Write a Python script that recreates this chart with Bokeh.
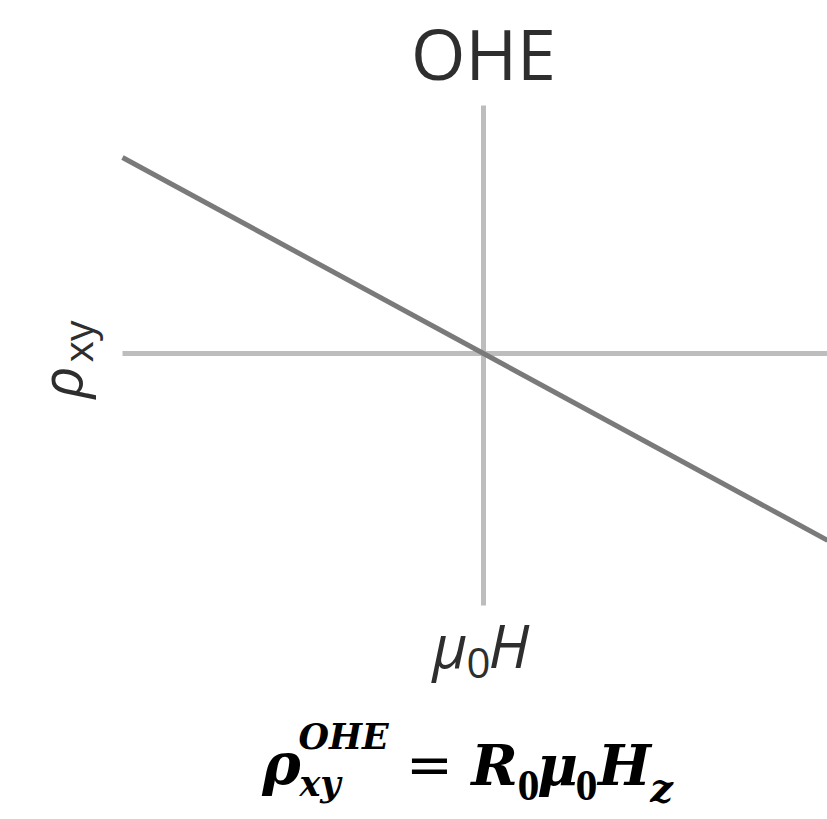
import math
from bokeh.plotting import figure
from bokeh.models import Range1d
from bokeh.core.properties import value
from bokeh.embed import file_html
from bokeh.resources import INLINE

# Ordinary Hall effect: rho_xy = R0 * mu0 * H (schematic, arbitrary units)
field = [-1.0, 0.953]
R0 = -0.543
rho_xy = [R0 * h for h in field]

# reference axes drawn through the origin
h_axis_x = [-1.0, 0.953]
h_axis_y = [0.0, 0.0]
v_axis_x = [0.0, 0.0]
v_axis_y = [-0.698, 0.687]

title_text = "OHE"

W, H = 827, 819
SCALE = 361.0          # pixels per unit
OX, OY = 483.0, 353.0  # pixel position of the origin
K = 0.46               # baseline correction of the svg text, in em

p = figure(width=W, height=H, output_backend="svg", toolbar_location=None,
           x_range=Range1d(-OX / SCALE, (W - OX) / SCALE),
           y_range=Range1d(-(H - OY) / SCALE, OY / SCALE),
           min_border=0, outline_line_color=None)
p.axis.visible = False
p.grid.visible = False
p.background_fill_color = "white"
p.border_fill_color = "white"


def at(xp, yp):
    """pixel position (from top-left) -> data coordinates"""
    return (xp - OX) / SCALE, (OY - yp) / SCALE


p.line(h_axis_x, h_axis_y, line_color="#bdbdbd", line_width=5)
p.line(v_axis_x, v_axis_y, line_color="#bdbdbd", line_width=5)
p.line(field, rho_xy, line_color="#7a7a7a", line_width=5)


def txt(s, xp, yp, size, font="Open Sans", style="normal", color="#2e2e2e",
        align="left", rotated=False):
    # (xp, yp) is the wanted baseline point
    if rotated:
        x, y = at(xp - K * size, yp)
        angle = math.pi / 2
    else:
        x, y = at(xp, yp - K * size)
        angle = 0.0
    p.text(x=[x], y=[y], text=[s], text_font=value(font),
           text_font_size=f"{size}px", text_font_style=style,
           text_color=color, text_align=align, text_baseline="alphabetic",
           angle=angle)


# title
txt(title_text, 483, 85, 70, align="center")

# x label: mu0H
txt("μ", 432, 672, 60, style="italic")
txt("0", 466, 682, 42)
txt("H", 488, 672, 60, style="italic")

# y label: rho_xy (rotated)
txt("ρ", 85, 398, 56, style="italic", rotated=True)
txt("xy", 95, 362, 41, rotated=True)

# formula: rho_xy^OHE = R0 mu0 Hz
F = "DejaVu Serif"
FD = "Liberation Serif"
BI = "bold italic"
fc = "#000000"
txt("ρ", 281, 790, 58, font=F, style=BI, color=fc, align="center")
txt("OHE", 298, 752, 35, font=F, style=BI, color=fc)
txt("xy", 299, 799, 35, font=F, style=BI, color=fc)
txt("=", 429, 790, 56, font=F, style="normal", color=fc, align="center")
txt("R", 494, 790, 56, font=F, style=BI, color=fc, align="center")
txt("0", 528, 805, 44, font=FD, style="bold", color=fc, align="center")
txt("μ", 557, 790, 56, font=F, style=BI, color=fc, align="center")
txt("0", 586, 805, 44, font=FD, style="bold", color=fc, align="center")
txt("H", 624, 790, 56, font=F, style=BI, color=fc, align="center")
txt("z", 661, 805, 40, font=F, style=BI, color=fc, align="center")

open("out.html", "w").write(file_html(p, INLINE))
